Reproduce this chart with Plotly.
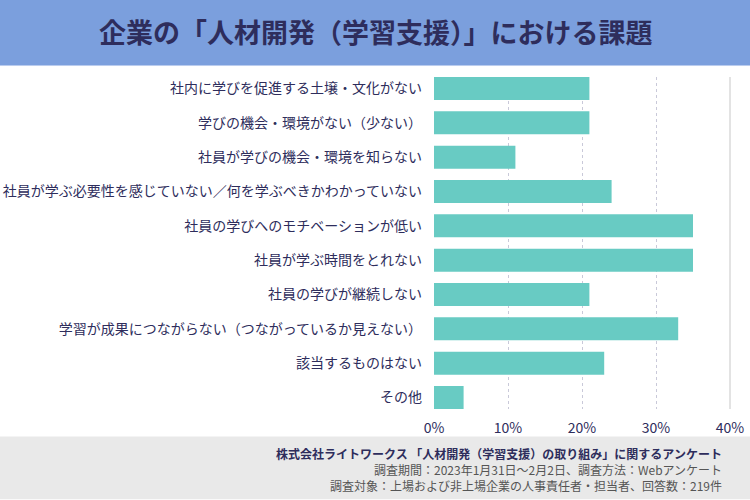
import plotly.graph_objects as go

categories = [
    "社内に学びを促進する土壌・文化がない",
    "学びの機会・環境がない（少ない）",
    "社員が学びの機会・環境を知らない",
    "社員が学ぶ必要性を感じていない／何を学ぶべきかわかっていない",
    "社員の学びへのモチベーションが低い",
    "社員が学ぶ時間をとれない",
    "社員の学びが継続しない",
    "学習が成果につながらない（つながっているか見えない）",
    "該当するものはない",
    "その他",
]
values = [21, 21, 11, 24, 35, 35, 21, 33, 23, 4]
x_ticks = [0, 10, 20, 30, 40]
x_ticklabels = ["0%", "10%", "20%", "30%", "40%"]

title_text = "企業の「人材開発（学習支援）」における課題"
footer_lines = [
    "<b>株式会社ライトワークス 「人材開発（学習支援）の取り組み」に関するアンケート</b>",
    "調査期間：2023年1月31日〜2月2日、調査方法：Webアンケート",
    "調査対象：上場および非上場企業の人事責任者・担当者、回答数：219件",
]

FONT = "Noto Sans CJK JP"
NAVY = "#2E2D5C"

fig = go.Figure(go.Bar(
    x=values,
    y=categories,
    orientation="h",
    width=0.67,
    marker=dict(color="#68CBC3", line=dict(width=0)),
    hoverinfo="x+y",
))

W, H = 750, 500
top, bottom, left, right = 77, 409.5, 434, 730
PW, PH = right - left, bottom - top

fig.update_layout(
    width=W, height=H,
    autosize=False,
    margin=dict(l=left, r=W - right, t=top, b=H - bottom, pad=0, autoexpand=False),
    paper_bgcolor="white",
    plot_bgcolor="white",
    showlegend=False,
    font=dict(family=FONT, color=NAVY),
)

fig.update_xaxes(
    range=[0, 40],
    tickvals=x_ticks,
    ticktext=x_ticklabels,
    showgrid=True,
    gridcolor="#C9C9D9",
    griddash="dot",
    gridwidth=1,
    zeroline=False,
    showline=False,
    tickfont=dict(size=14, color=NAVY, family=FONT),
    ticks="",
    ticklabelstandoff=9,
    automargin=False,
    fixedrange=True,
)
fig.update_yaxes(
    type="category",
    range=[len(categories) - 1 + 0.335, -0.335],
    showgrid=False,
    zeroline=False,
    showline=False,
    tickfont=dict(size=14, color=NAVY, family=FONT),
    ticks="",
    ticklabelstandoff=11,
    automargin=False,
    fixedrange=True,
)

shapes = [
    # title banner
    dict(type="rect", xref="paper", yref="paper", x0=-left / PW, x1=(W - left) / PW,
         y0=1 + (top - 65) / PH, y1=1 + top / PH,
         fillcolor="#7B9FDD", line=dict(width=0), layer="below"),
    dict(type="line", xref="paper", yref="paper", x0=-left / PW, x1=(W - left) / PW,
         y0=1 + (top - 65.5) / PH, y1=1 + (top - 65.5) / PH,
         line=dict(color="#B9CCEE", width=1), layer="below"),
    # footer band
    dict(type="rect", xref="paper", yref="paper", x0=-left / PW, x1=(W - left) / PW,
         y0=-(H - bottom) / PH, y1=-(437 - bottom) / PH,
         fillcolor="#E9E9E9", line=dict(width=0), layer="below"),
    # right border line at 40%
    dict(type="line", xref="paper", yref="paper", x0=1, x1=1, y0=0, y1=1,
         line=dict(color="#E3E3E3", width=2), layer="above"),
]
fig.update_layout(shapes=shapes)

annotations = [
    dict(text="<b>" + title_text + "</b>", xref="paper", yref="paper",
         x=(376 - left) / PW, y=1 + (top - 31) / PH,
         xanchor="center", yanchor="middle", showarrow=False,
         font=dict(size=27, color=NAVY, family=FONT)),
]
footer_y = [454, 470, 486]
footer_colors = [NAVY, "#555555", "#555555"]
for line, yy, col in zip(footer_lines, footer_y, footer_colors):
    annotations.append(dict(
        text=line, xref="paper", yref="paper",
        x=(724 - left) / PW, y=-(yy - bottom) / PH,
        xanchor="right", yanchor="middle", showarrow=False,
        font=dict(size=12, color=col, family=FONT),
    ))
fig.update_layout(annotations=annotations)

fig.write_html(
    "out.html",
    config={"displayModeBar": False},
    post_script="document.body.style.margin='0';document.body.style.overflow='hidden';",
)
